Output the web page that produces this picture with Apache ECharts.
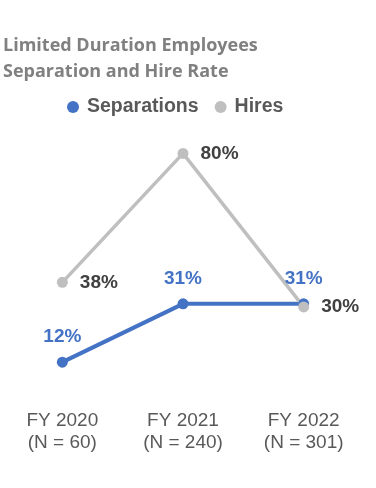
<!DOCTYPE html>
<html>
<head>
<meta charset="utf-8">
<script src="https://cdn.jsdelivr.net/npm/echarts@6/dist/echarts.min.js"></script>
<style>
  html, body { margin: 0; padding: 0; background: #fff; }
  #chart { width: 376px; height: 488px; }
</style>
</head>
<body>
<div id="chart"></div>
<script>
var years = ['FY 2020', 'FY 2021', 'FY 2022'];
var counts = ['(N = 60)', '(N = 240)', '(N = 301)'];
var separations = [12, 31, 31];
var hires = [38, 80, 30];

var chart = echarts.init(document.getElementById('chart'));

var categories = years.map(function (y, i) { return y + '\n' + counts[i]; });

chart.setOption({
    animation: false,
    title: {
        text: 'Limited Duration Employees\nSeparation and Hire Rate',
        left: 3,
        top: 33,
        padding: 0,
        textStyle: {
            fontFamily: 'Open Sans',
            fontWeight: 'bold',
            fontSize: 18,
            lineHeight: 26,
            color: '#808080'
        }
    },
    legend: {
        top: 92,
        left: 62,
        icon: 'circle',
        itemWidth: 12,
        itemHeight: 12,
        itemGap: 16,
        textStyle: {
            fontFamily: 'Liberation Sans',
            fontWeight: 'bold',
            fontSize: 19.5,
            color: '#595959',
            padding: [0, 0, 0, 3]
        },
        data: ['Separations', 'Hires']
    },
    grid: {
        left: 2,
        right: 12,
        top: 92,
        bottom: 89
    },
    xAxis: {
        type: 'category',
        data: categories,
        axisLine: { show: false },
        axisTick: { show: false },
        axisLabel: {
            margin: 11,
            fontFamily: 'Liberation Sans',
            fontSize: 19,
            lineHeight: 22,
            color: '#595959'
        }
    },
    yAxis: {
        type: 'value',
        min: 0,
        max: 100,
        show: false,
        splitLine: { show: false }
    },
    series: [
        {
            name: 'Separations',
            type: 'line',
            data: separations,
            color: '#4472C4',
            symbol: 'circle',
            symbolSize: 11,
            lineStyle: { width: 4, color: '#4472C4' },
            label: {
                show: true,
                position: 'top',
                distance: 10,
                formatter: '{c}%',
                fontFamily: 'Liberation Sans',
                fontWeight: 'bold',
                fontSize: 19,
                color: '#4472C4'
            }
        },
        {
            name: 'Hires',
            type: 'line',
            data: hires,
            color: '#BFBFBF',
            symbol: 'circle',
            symbolSize: 11,
            lineStyle: { width: 3.5, color: '#BFBFBF' },
            label: {
                show: true,
                position: 'right',
                distance: 12,
                formatter: '{c}%',
                fontFamily: 'Liberation Sans',
                fontWeight: 'bold',
                fontSize: 19,
                color: '#404040'
            }
        }
    ]
});
</script>
</body>
</html>
